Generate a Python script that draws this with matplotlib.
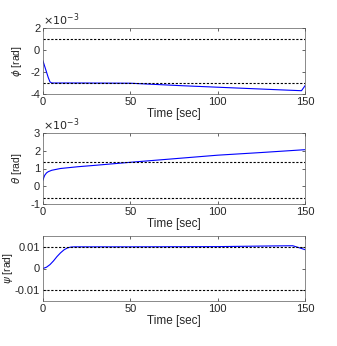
import numpy as np
import matplotlib
matplotlib.use("Agg")
import matplotlib.pyplot as plt

plt.rcParams['font.family'] = ['Liberation Sans', 'DejaVu Sans']
plt.rcParams['mathtext.fontset'] = 'dejavusans'

# phi
t_phi = [0, 1, 2, 3, 4, 5, 20, 50, 80, 110, 140, 148, 150]
phi = [-1.0e-3, -1.5e-3, -2.0e-3, -2.5e-3, -2.9e-3, -3.0e-3, -3.0e-3, -3.02e-3,
       -3.25e-3, -3.45e-3, -3.65e-3, -3.7e-3, -3.25e-3]
phi_bounds = [1.0e-3, -3.0e-3]

# theta
t_th = [0, 0.5, 1, 2, 3, 5, 10, 20, 30, 50, 75, 100, 125, 150]
theta = [0.35e-3, 0.5e-3, 0.62e-3, 0.75e-3, 0.82e-3, 0.9e-3, 1.0e-3, 1.1e-3,
         1.18e-3, 1.35e-3, 1.55e-3, 1.75e-3, 1.9e-3, 2.06e-3]
theta_bounds = [1.35e-3, -0.65e-3]

# psi
t_psi = [0, 2, 4, 6, 8, 10, 12, 14, 16, 18, 20, 50, 100, 130, 143, 147, 150]
psi = [0.0, 0.0006, 0.0018, 0.0035, 0.0055, 0.0072, 0.0086, 0.0095, 0.0099, 0.01,
       0.01, 0.01, 0.0101, 0.0104, 0.0105, 0.0095, 0.0087]
psi_bounds = [0.01, -0.01]

fig = plt.figure(figsize=(3.37, 3.46), dpi=100)
W, H = 337, 346
boxes = [(43, 28, 305, 94), (43, 133, 305, 204), (43, 236, 305, 301)]
axs = [fig.add_axes([l / W, 1 - b / H, (r - l) / W, (b - t) / H]) for l, t, r, b in boxes]

def style(ax):
    for s in ax.spines.values():
        s.set_color('#5a5a5a')
        s.set_linewidth(0.5)
    ax.tick_params(direction='in', top=True, right=True, labelsize=8,
                   length=2.5, width=0.5, colors='#262626', pad=2)
    ax.set_xlim(0, 150)
    ax.set_xticks([0, 50, 100, 150])
    ax.set_xlabel('Time [sec]', fontsize=8.5, color='#262626', labelpad=1)

data = [(t_phi, phi, phi_bounds, r'$\phi$ [rad]', (-4e-3, 2e-3), [-4e-3, -2e-3, 0, 2e-3], 1e3),
        (t_th, theta, theta_bounds, r'$\theta$ [rad]', (-1e-3, 3e-3), [-1e-3, 0, 1e-3, 2e-3, 3e-3], 1e3),
        (t_psi, psi, psi_bounds, r'$\psi$ [rad]', (-0.015, 0.015), [-0.01, 0, 0.01], None)]

for ax, (t, y, bnd, lab, yl, yt, sc) in zip(axs, data):
    style(ax)
    ax.plot(t, y, color='#0000ff', lw=0.8)
    for b in bnd:
        ax.axhline(b, color='k', ls=(0, (2, 1.5)), lw=0.8)
    ax.set_ylim(*yl)
    ax.set_yticks(yt)
    ax.set_ylabel(lab, fontsize=7.5, color='#262626')
    if sc:
        ax.set_yticklabels([f'{v * sc:g}' for v in yt])
        ax.text(0.0, 1.0, r'$\times10^{-3}$', transform=ax.transAxes, fontsize=8,
                color='#262626', va='bottom', ha='left')
        ax.yaxis.set_label_coords(-0.072, 0.5)
    else:
        ax.set_yticklabels(['-0.01', '0', '0.01'])
        ax.yaxis.set_label_coords(-0.108, 0.5)

fig.savefig('out.png', dpi=100)
